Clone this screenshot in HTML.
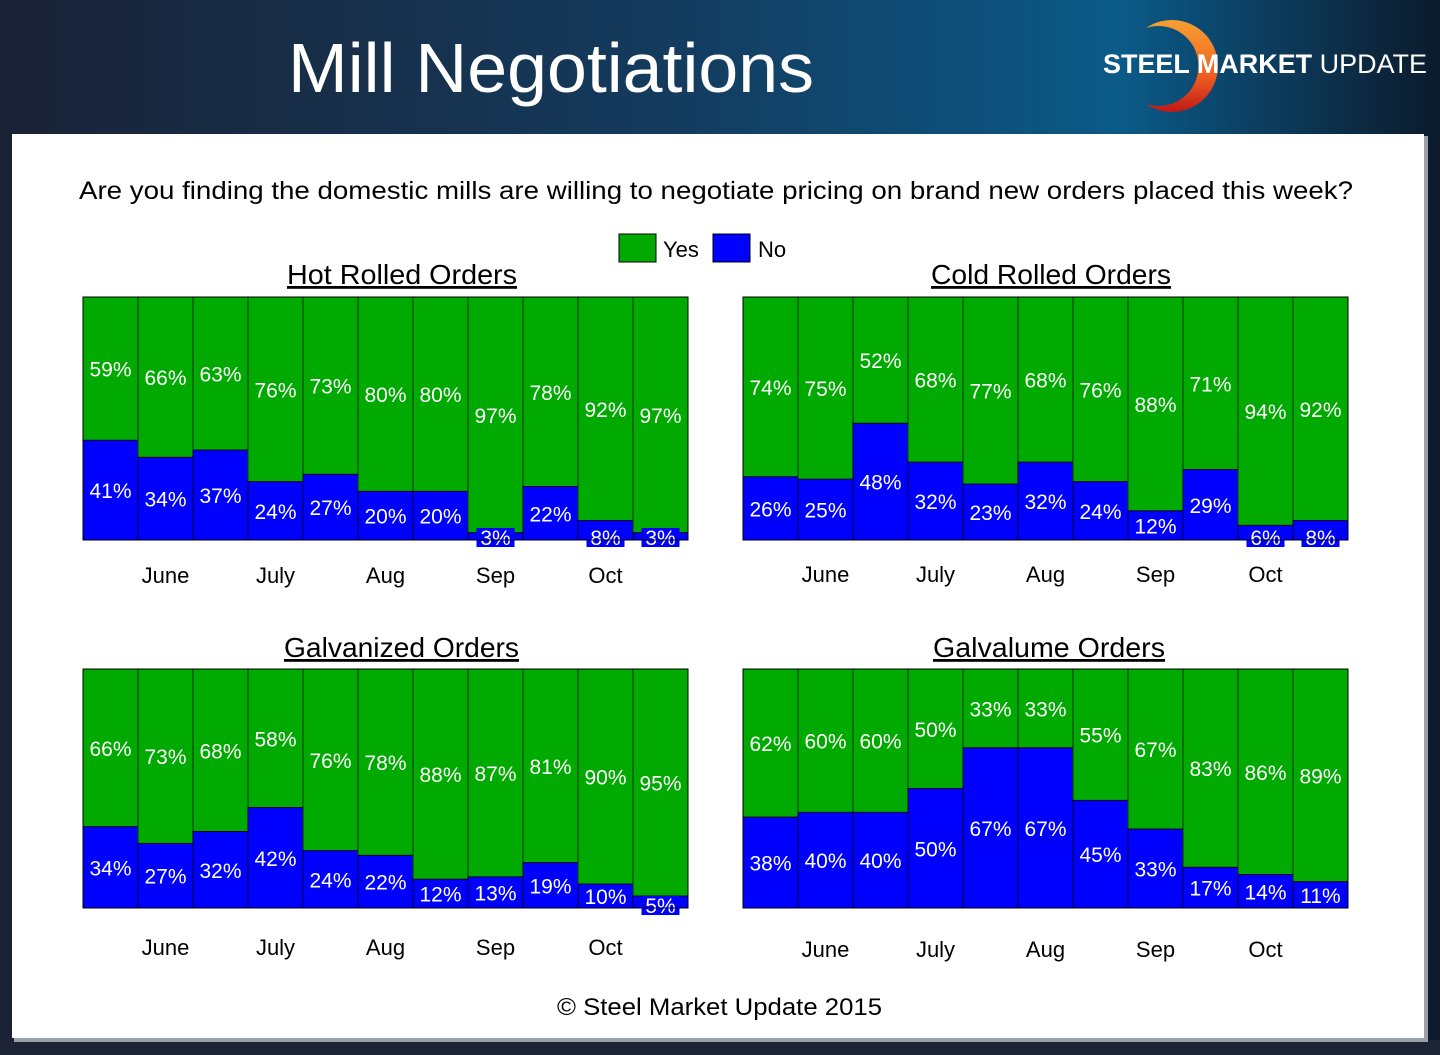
<!DOCTYPE html>
<html><head><meta charset="utf-8"><style>
html,body{margin:0;padding:0;width:1440px;height:1055px;overflow:hidden;background:#1a2234;font-family:"Liberation Sans",sans-serif}
</style></head><body>
<svg id="root" width="1440" height="1055" viewBox="0 0 1440 1055" xmlns="http://www.w3.org/2000/svg">
<defs>
<linearGradient id="hdr" x1="0" x2="1" y1="0" y2="0">
<stop offset="0" stop-color="#1a2236"/><stop offset="0.45" stop-color="#143a5c"/><stop offset="0.78" stop-color="#0b5a88"/><stop offset="1" stop-color="#0c1a2c"/></linearGradient>
<linearGradient id="arc" x1="0" x2="0" y1="0" y2="1"><stop offset="0" stop-color="#f7a030"/><stop offset="0.6" stop-color="#f06020"/><stop offset="1" stop-color="#c01818"/></linearGradient>
</defs>
<rect x="0" y="0" width="1440" height="1055" fill="url(#hdr)"/>
<rect x="0" y="1040" width="1440" height="15" fill="#1c2436"/>
<text x="288" y="92" font-size="70" fill="#fff" textLength="526" lengthAdjust="spacingAndGlyphs">Mill Negotiations</text>
<g>
<path d="M1146,28 A46,46 0 1 1 1146,104 A40,40 0 1 0 1146,28 Z" fill="url(#arc)"/>
<text x="1103" y="73" font-size="27" font-weight="bold" fill="#fff" textLength="324" lengthAdjust="spacingAndGlyphs">STEEL <tspan>MARKET</tspan> <tspan font-weight="normal">UPDATE</tspan></text>
</g>
<rect x="14" y="136" width="1414" height="906" fill="#9aa0a8"/>
<rect x="12" y="134" width="1412" height="904" fill="#fff"/>
<text x="79" y="199" font-size="25" fill="#000" textLength="1274" lengthAdjust="spacingAndGlyphs">Are you finding the domestic mills are willing to negotiate pricing on brand new orders placed this week?</text>
<g>
<rect x="619" y="234" width="37" height="28" fill="#00aa00" stroke="#000"/>
<text x="663" y="257" font-size="22">Yes</text>
<rect x="713" y="234" width="37" height="28" fill="#0000ff" stroke="#000"/>
<text x="758" y="257" font-size="22">No</text>
</g>
<text x="557" y="1015" font-size="24" textLength="325" lengthAdjust="spacingAndGlyphs">© Steel Market Update 2015</text>
</svg>
<script>
const months = ["June","July","Aug","Sep","Oct"];
const monthBarIndex = [1,3,5,7,9];
const hotRolledYes = [59,66,63,76,73,80,80,97,78,92,97];
const coldRolledYes = [74,75,52,68,77,68,76,88,71,94,92];
const galvanizedYes = [66,73,68,58,76,78,88,87,81,90,95];
const galvalumeYes = [62,60,60,50,33,33,55,67,83,86,89];

const svg = document.getElementById('root');
const NS = 'http://www.w3.org/2000/svg';
function mk(tag, attrs){const e=document.createElementNS(NS,tag);for(const k in attrs)e.setAttribute(k,attrs[k]);return e;}

function drawChart(title, yes, x0, y0, w, h, titleX, titleW, titleY, monthY, key){
  const g = mk('g',{});
  
  
  svg.appendChild(g);
  const t = mk('text',{x:titleX,y:titleY,'font-size':28,'text-decoration':'underline',textLength:titleW,lengthAdjust:'spacingAndGlyphs'});
  
  
  t.textContent = title; g.appendChild(t);
  const n = yes.length, bw = w/n;
  const ys = v => y0 + h - v/100*h;
  yes.forEach((v,i)=>{
    const no = 100 - v;
    const bx = x0 + i*bw;
    const gr = mk('rect',{x:bx,y:y0,width:bw,height:h*v/100,fill:'#00aa00',stroke:'#003300','stroke-width':1});
    
    
    g.appendChild(gr);
    const br = mk('rect',{x:bx,y:ys(no),width:bw,height:h*no/100,fill:'#0000ff',stroke:'#000033','stroke-width':1});
    
    
    g.appendChild(br);
    const ly = (y0 + ys(no))/2 + 8;
    const l1 = mk('text',{x:bx+bw/2,y:ly,'font-size':21,fill:'#fff','text-anchor':'middle'});
    
    
    l1.textContent = v+'%'; g.appendChild(l1);
    let ny = (ys(no) + y0 + h)/2 + 8;
    if (ny > y0 + h + 5) ny = y0 + h + 5;
    if (no < 10) ny = y0 + h + 5;
    const l2 = mk('text',{x:bx+bw/2,y:ny,'font-size':21,fill:'#fff','text-anchor':'middle'});
    
    
    l2.textContent = no+'%';
    if (no < 10){
      const bg = mk('rect',{x:bx+bw/2-19,y:ny-17,width:38,height:19,fill:'#0000ff'});
      g.appendChild(bg);
    }
    g.appendChild(l2);
  });
  g.appendChild(mk('rect',{x:x0,y:y0,width:w,height:h,fill:'none',stroke:'#000','stroke-width':1}));
  months.forEach((m,j)=>{
    const mt = mk('text',{x:x0+(monthBarIndex[j]+0.5)*bw,y:monthY,'font-size':22,'text-anchor':'middle'});
    
    
    mt.textContent = m; g.appendChild(mt);
  });
}
drawChart('Hot Rolled Orders', hotRolledYes, 83, 297, 605, 243, 287, 230, 284, 583, 'hot-rolled');
drawChart('Cold Rolled Orders', coldRolledYes, 743, 297, 605, 243, 931, 240, 284, 582, 'cold-rolled');
drawChart('Galvanized Orders', galvanizedYes, 83, 669, 605, 239, 284, 235, 657, 955, 'galvanized');
drawChart('Galvalume Orders', galvalumeYes, 743, 669, 605, 239, 933, 232, 657, 957, 'galvalume');
</script>
</body></html>
